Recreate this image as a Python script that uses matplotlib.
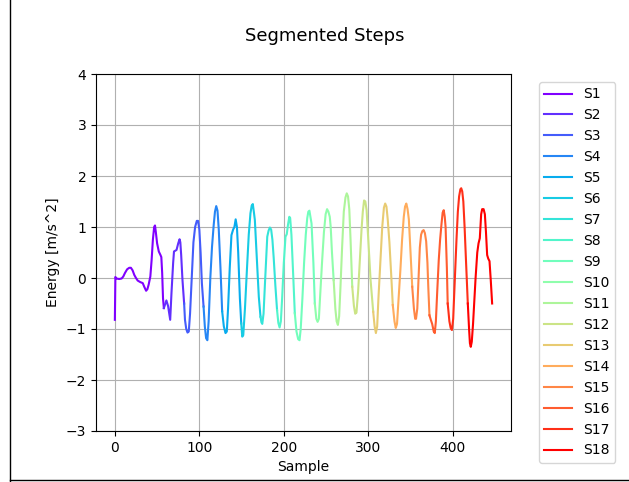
import numpy as np
import matplotlib
matplotlib.use("Agg")
import matplotlib.pyplot as plt
from matplotlib.lines import Line2D

labels = [f"S{i}" for i in range(1, 19)]

seg_x = [
    [0, 0.6, 2, 5, 8, 10, 12, 14.5, 17, 19, 21, 23, 25, 27, 30, 33, 35, 37, 38.5, 40, 42, 43.5, 45, 46.5, 47.5, 48.5, 50, 52, 54, 55, 56, 57, 58],
    [58, 61, 63, 65.5, 67, 69, 70, 73, 75, 76.6, 77.5, 78.5, 80, 82],
    [82, 83, 84.5, 86, 87.5, 89, 91, 93, 95, 97, 98.5, 100, 101.5, 103, 105],
    [105, 106.5, 108, 109.5, 111, 113, 115, 117, 118.5, 120, 121.5, 123, 125, 127],
    [127, 129, 131, 132.5, 134, 136, 138, 140, 141.5, 143, 144.5, 146, 148, 149.6],
    [149.6, 150.8, 152, 154, 156.5, 158.5, 160.5, 162, 163.3, 164.5, 165.7, 168, 170.4, 172.4],
    [172.4, 173.5, 174.5, 176, 178, 180.4, 182, 183.5, 185, 186.5, 188, 190, 192],
    [192, 193.5, 195, 196.5, 198, 200, 202, 203.5, 205, 206.5, 207.5, 209, 211, 213],
    [213, 215, 217, 218.6, 220, 222, 224, 226, 227.7, 229, 230.3, 231.5, 232.8, 235, 236.7],
    [236.7, 238.5, 240, 241.5, 243, 245.4, 247.5, 249.5, 251.2, 252.8, 254.4, 255.5, 257, 259],
    [259, 261, 262.5, 264, 265.5, 267, 269, 271, 273, 274.5, 276, 277.5, 279, 281],
    [281, 283, 284.5, 286, 288, 290, 292, 293.5, 295, 296.5, 298, 300.5, 302.7, 305.8],
    [305.8, 307.5, 309, 310.5, 312, 314.4, 316.5, 318.5, 320, 321.5, 323, 325, 327, 329],
    [329, 331, 332.5, 334, 335.5, 338, 340, 342, 343.5, 345, 346.5, 348, 350, 352],
    [352, 354, 355.5, 356.5, 358, 359.5, 361, 362.5, 364, 365.5, 367, 368.5, 370, 371, 372.4],
    [372.4, 374, 375.6, 377.5, 378.7, 380, 381.5, 383.4, 385, 386.6, 388, 389.3, 390.5, 391.5, 393, 394],
    [394, 396, 397.5, 399, 400.5, 402, 404.4, 406, 407.5, 409, 410, 411.2, 412.5, 414, 415.5, 417.8],
    [417.8, 419.3, 420.3, 421.3, 422.5, 424, 425.5, 427, 429, 430.5, 432, 433.6, 434.8, 436.5, 438, 439.3, 440.7, 442, 443.5, 445, 446.6],
]

seg_y = [
    [-0.82, 0.02, -0.01, -0.02, -0.01, 0.03, 0.1, 0.17, 0.2, 0.2, 0.15, 0.06, 0.0, -0.05, -0.08, -0.1, -0.18, -0.25, -0.22, -0.13, 0.03, 0.35, 0.75, 1.0, 1.03, 0.9, 0.68, 0.52, 0.45, 0.41, 0.1, -0.4, -0.59],
    [-0.59, -0.44, -0.55, -0.82, -0.3, 0.3, 0.52, 0.55, 0.68, 0.76, 0.7, 0.45, -0.03, -0.5],
    [-0.5, -0.82, -1.0, -1.07, -1.05, -0.7, 0.0, 0.7, 1.0, 1.12, 1.12, 0.95, 0.5, -0.1, -0.56],
    [-0.56, -0.95, -1.18, -1.22, -0.85, 0.0, 0.61, 1.04, 1.3, 1.41, 1.32, 0.95, 0.2, -0.65],
    [-0.65, -0.95, -1.08, -1.05, -0.6, 0.2, 0.84, 0.95, 1.0, 1.15, 1.0, 0.5, -0.4, -0.89],
    [-0.89, -1.15, -1.12, -0.6, 0.22, 0.85, 1.27, 1.42, 1.45, 1.3, 1.14, 0.4, -0.37, -0.76],
    [-0.76, -0.87, -0.9, -0.7, 0.0, 0.81, 0.93, 0.99, 0.95, 0.75, 0.4, -0.15, -0.63],
    [-0.63, -0.88, -0.97, -0.85, -0.4, 0.3, 0.81, 0.86, 1.05, 1.2, 1.18, 0.85, 0.1, -0.69],
    [-0.69, -1.05, -1.2, -1.22, -1.0, -0.4, 0.3, 0.85, 1.17, 1.3, 1.32, 1.2, 1.07, 0.3, -0.5],
    [-0.5, -0.8, -0.86, -0.8, -0.35, 0.35, 0.9, 1.25, 1.35, 1.3, 1.2, 1.0, 0.5, -0.04],
    [-0.04, -0.6, -0.85, -0.92, -0.75, -0.2, 0.6, 1.3, 1.58, 1.66, 1.6, 1.35, 0.75, -0.17],
    [-0.17, -0.55, -0.7, -0.68, -0.25, 0.35, 0.95, 1.3, 1.52, 1.5, 1.33, 0.6, -0.04, -0.66],
    [-0.66, -0.95, -1.08, -0.95, -0.4, 0.35, 1.0, 1.38, 1.46, 1.4, 1.15, 0.7, 0.1, -0.53],
    [-0.53, -0.85, -0.98, -0.9, -0.5, 0.16, 0.75, 1.2, 1.4, 1.46, 1.35, 1.15, 0.5, -0.17],
    [-0.17, -0.6, -0.8, -0.8, -0.6, 0.0, 0.6, 0.85, 0.92, 0.94, 0.88, 0.72, 0.3, -0.17, -0.73],
    [-0.73, -0.82, -0.9, -1.05, -1.08, -0.85, -0.3, 0.35, 0.75, 1.05, 1.28, 1.33, 1.2, 1.0, 0.2, -0.5],
    [-0.5, -0.85, -0.98, -1.02, -0.8, -0.2, 0.75, 1.3, 1.6, 1.74, 1.76, 1.7, 1.5, 1.0, 0.4, -0.5],
    [-0.5, -1.0, -1.28, -1.35, -1.25, -0.9, -0.45, 0.0, 0.5, 0.68, 0.78, 1.25, 1.35, 1.35, 1.25, 0.9, 0.45, 0.38, 0.33, -0.05, -0.5],
]

fig = plt.figure(figsize=(6.29, 4.82), dpi=100)
ax = fig.add_axes([96 / 629, 1 - 431 / 482, 415 / 629, 357 / 482])
colors = plt.cm.rainbow(np.linspace(0, 1, len(labels)))
for xs, ys, lab, c in zip(seg_x, seg_y, labels, colors):
    ax.plot(xs, ys, color=c, label=lab)

ax.set_ylim(-3, 4)
ax.set_yticks(range(-3, 5))
ax.set_xlabel("Sample")
ax.set_ylabel("Energy [m/s^2]")
ax.grid(True)
ax.legend(loc="upper left", bbox_to_anchor=(1.067, 0.978), borderaxespad=0)
fig.suptitle("Segmented Steps", x=0.517, y=0.945, fontsize=13)

fig.add_artist(Line2D([10 / 629, 10 / 629], [0, 1], color="black", lw=1, transform=fig.transFigure))
fig.add_artist(Line2D([10 / 629, 1], [2 / 482, 2 / 482], color="black", lw=1, transform=fig.transFigure))

fig.savefig("out.png", dpi=100)
